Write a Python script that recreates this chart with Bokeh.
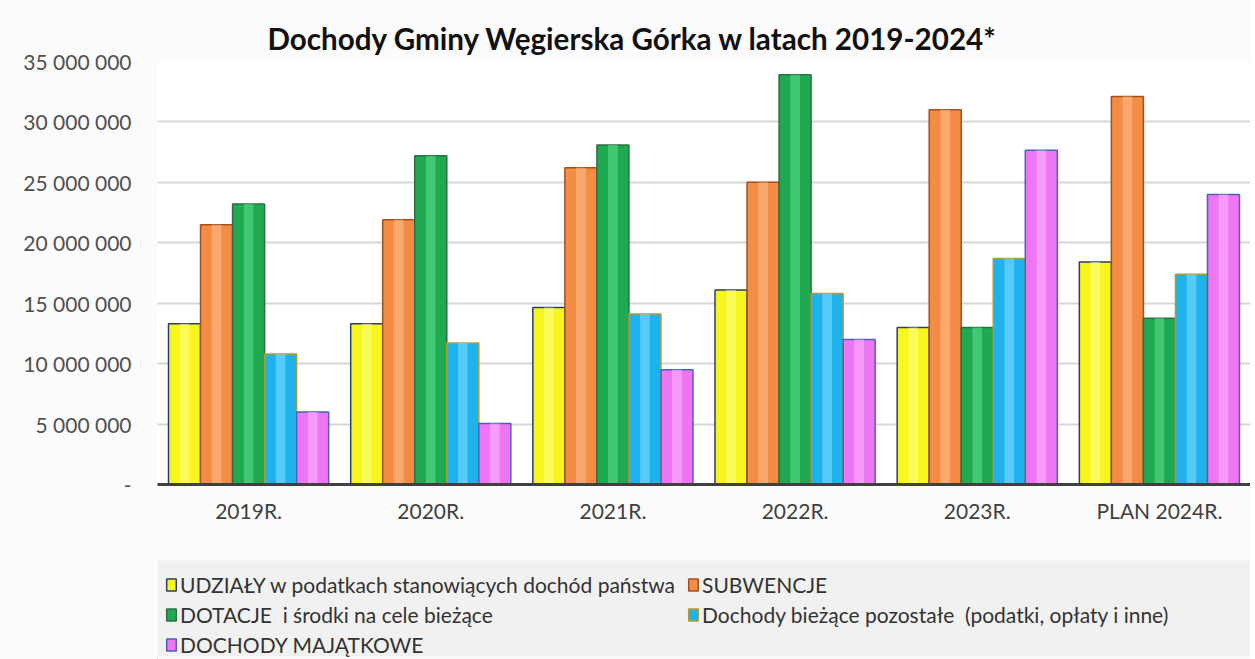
from bokeh.plotting import figure
from bokeh.models import (ColumnDataSource, FactorRange, Legend, LegendItem, FixedTicker,
                          Title, Range1d, BoxAnnotation)
from bokeh.layouts import column
from bokeh.transform import dodge
from bokeh.embed import file_html
from bokeh.resources import INLINE

years = ["2019R.", "2020R.", "2021R.", "2022R.", "2023R.", "PLAN 2024R."]
udzialy = [13300000, 13300000, 14650000, 16100000, 13000000, 18400000]
subwencje = [21500000, 21900000, 26200000, 25000000, 31000000, 32100000]
dotacje = [23200000, 27200000, 28100000, 33900000, 13000000, 13750000]
pozostale = [10800000, 11700000, 14100000, 15800000, 18700000, 17400000]
majatkowe = [6000000, 5050000, 9500000, 12000000, 27650000, 24000000]

series_names = [
    "UDZIAŁY w podatkach stanowiących dochód państwa",
    "SUBWENCJE",
    "DOTACJE  i środki na cele bieżące",
    "Dochody bieżące pozostałe  (podatki, opłaty i inne)",
    "DOCHODY MAJĄTKOWE",
]
y_ticks = [0, 5000000, 10000000, 15000000, 20000000, 25000000, 30000000, 35000000]

fills = ["#f7f71e", "#f38c45", "#1faa52", "#1fb3ee", "#ef76f2"]
highlights = ["#ffff8a", "#ffc08e", "#5fe08e", "#7fe0ff", "#ffb8ff"]
outlines = ["#2d3c6b", "#a5501c", "#2f6e45", "#b89a2a", "#4a62b8"]

src = ColumnDataSource(dict(years=years, s0=udzialy, s1=subwencje, s2=dotacje,
                            s3=pozostale, s4=majatkowe))

BG = "#fbfbfb"
p = figure(x_range=FactorRange(*years, range_padding=0), y_range=(0, 35000000),
           frame_width=1093, frame_height=423, output_backend="svg", toolbar_location=None,
           min_border_left=157, min_border_right=0, min_border_top=61,
           min_border_bottom=66, background_fill_color="#ffffff",
           border_fill_color=BG, outline_line_color=None)

bw = 32 / 182.0
offs = [-2 * bw, -bw, 0, bw, 2 * bw]
for i in range(5):
    p.vbar(x=dodge("years", offs[i], range=p.x_range), top="s%d" % i, width=bw,
           source=src, fill_color=fills[i], line_color=outlines[i], line_width=1.5)
    p.vbar(x=dodge("years", offs[i], range=p.x_range), top="s%d" % i, width=bw * 0.3,
           source=src, fill_color=highlights[i], fill_alpha=0.55, line_color=None)

p.title = Title(text="Dochody Gminy Węgierska Górka w latach 2019-2024*", align="left",
                offset=110, text_font="Lato", text_font_size="29.6px",
                text_font_style="bold", text_color="#111111", standoff=12)

p.xgrid.grid_line_color = None
p.ygrid.grid_line_color = "#d6d6d6"
p.ygrid.grid_line_width = 2
p.ygrid.ticker = FixedTicker(ticks=y_ticks)

p.yaxis.ticker = FixedTicker(ticks=y_ticks)
p.yaxis.major_label_overrides = {t: ("-" if t == 0 else "{:,}".format(t).replace(",", " "))
                                 for t in y_ticks}
p.yaxis.axis_line_color = None
p.yaxis.major_tick_line_color = None
p.yaxis.minor_tick_line_color = None
p.yaxis.major_label_standoff = 20
p.yaxis.major_label_text_font = "Lato"
p.yaxis.major_label_text_font_size = "21px"
p.yaxis.major_label_text_color = "#505050"

p.xaxis.axis_line_color = "#404040"
p.xaxis.axis_line_width = 3
p.xaxis.major_tick_line_color = None
p.xaxis.minor_tick_line_color = None
p.xaxis.major_label_standoff = 7
p.xaxis.major_label_text_font = "Lato"
p.xaxis.major_label_text_font_size = "21px"
p.xaxis.major_label_text_color = "#404040"

# legend strip below the chart (its frame is aligned with the chart frame)
lg = figure(width=1250, height=109, x_range=Range1d(157, 1250), y_range=Range1d(0, 109),
            output_backend="svg", toolbar_location=None, x_axis_type=None,
            y_axis_type=None, min_border_left=157, min_border_right=0,
            min_border_top=0, min_border_bottom=0, background_fill_color=BG,
            border_fill_color=BG, outline_line_color=None)
lg.xgrid.grid_line_color = None
lg.ygrid.grid_line_color = None
lg.add_layout(BoxAnnotation(left=157, right=1250, bottom=3, top=99,
                            fill_color="#f1f1f1", fill_alpha=1, line_color=None))

items = []
for i in range(5):
    r = lg.vbar(x=[0], top=[0], width=1, fill_color=fills[i], line_color=outlines[i],
                line_width=1.5)
    items.append(LegendItem(label=series_names[i], renderers=[r]))

common = dict(background_fill_alpha=0, border_line_color=None, label_text_font="Lato",
              label_text_font_size="21px", label_text_color="#333333",
              glyph_width=12, glyph_height=15, label_standoff=3,
              spacing=4, padding=5, margin=0, label_height=26)
leg1 = Legend(items=[items[0], items[2], items[4]], location=(8, 2), **common)
leg2 = Legend(items=[items[1], items[3]], location=(530, 32), **common)
lg.add_layout(leg1, "center")
lg.add_layout(leg2, "center")

layout = column(p, lg, spacing=0)
open("out.html", "w").write(file_html(layout, INLINE))
